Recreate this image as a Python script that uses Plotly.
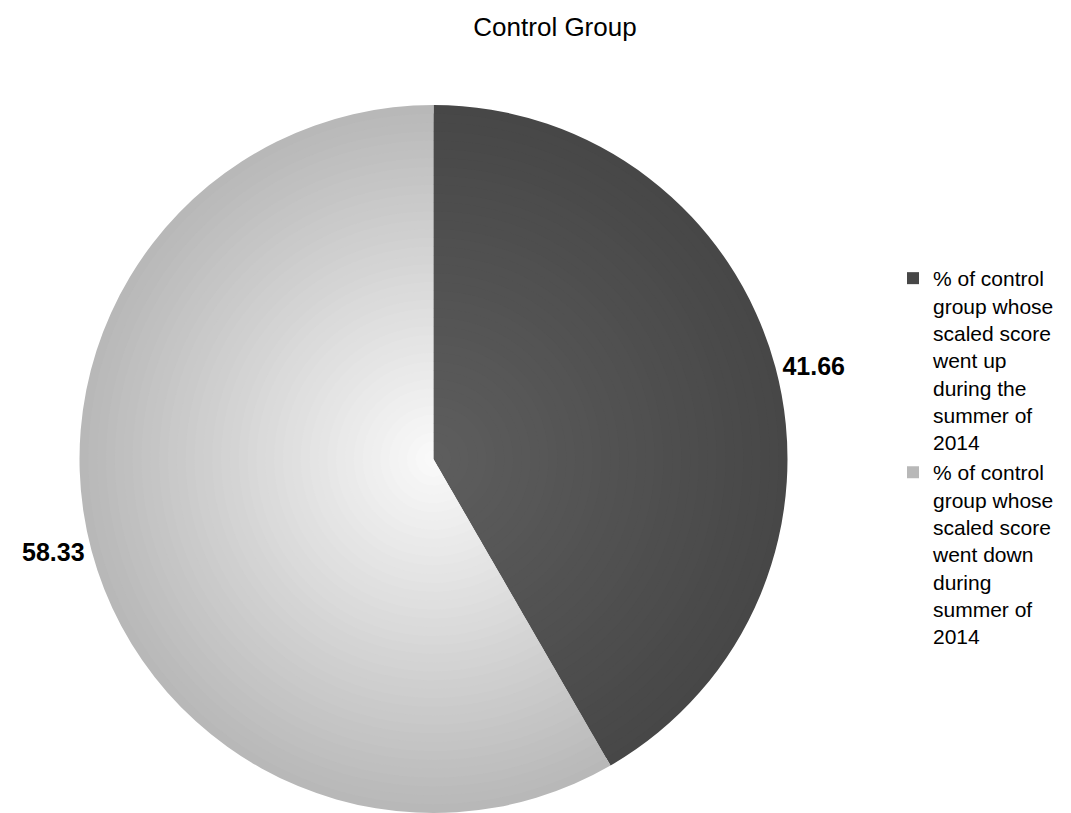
import plotly.graph_objects as go

# ---- data ----
title_text = "Control Group"
labels = [
    "% of control<br>group whose<br>scaled score<br>went up<br>during the<br>summer of<br>2014",
    "% of control<br>group whose<br>scaled score<br>went down<br>during<br>summer of<br>2014",
]
values = [41.66, 58.33]

# ---- style ----
edge_colors = [(71, 71, 71), (184, 184, 184)]
center_colors = [(94, 94, 94), (251, 251, 251)]

W, H = 1071, 813
OFF = 8  # page body margin
cx_px, cy_px, r_px = 433.5 - OFF, 459.0 - OFF, 354.0
N_LAYERS = 40
FONT = "Liberation Sans, Arial, sans-serif"


def mix(c0, c1, t):
    return "rgb(%d,%d,%d)" % tuple(round(a + (b - a) * t) for a, b in zip(c0, c1))


fig = go.Figure()
for i in range(N_LAYERS):
    s = 1 - i / N_LAYERS  # radius fraction
    r = r_px * s
    x0 = (cx_px - r) / W
    x1 = (cx_px + r) / W
    y0 = (H - cy_px - r) / H
    y1 = (H - cy_px + r) / H
    colors = [mix(c, e, s) for c, e in zip(center_colors, edge_colors)]
    outer = i == 0
    fig.add_trace(go.Pie(
        labels=labels,
        values=values,
        sort=False,
        direction="clockwise",
        rotation=0,
        domain=dict(x=[x0, x1], y=[y0, y1]),
        marker=dict(colors=colors, line=dict(width=0)),
        textinfo="value" if outer else "none",
        texttemplate="%{value:.2f}" if outer else None,
        textposition="outside" if outer else "none",
        outsidetextfont=dict(family=FONT, size=25, color="#000000", weight="bold"),
        showlegend=outer,
        hoverinfo="label+value" if outer else "skip",
        automargin=False,
    ))

fig.update_layout(
    width=W,
    height=H,
    margin=dict(l=0, r=0, t=0, b=0),
    paper_bgcolor="white",
    plot_bgcolor="white",
    title=dict(
        text=title_text,
        x=(555 - OFF) / W,
        xanchor="center",
        y=1 - (27 - OFF) / H,
        yanchor="middle",
        font=dict(family=FONT, size=26, color="#000000"),
    ),
    legend=dict(
        x=(893 - OFF) / W,
        xanchor="left",
        y=1 - (258 - OFF) / H,
        yanchor="top",
        valign="top",
        font=dict(family=FONT, size=21, color="#000000"),
        bgcolor="rgba(0,0,0,0)",
        tracegroupgap=0,
    ),
)

fig.write_html("out.html")
